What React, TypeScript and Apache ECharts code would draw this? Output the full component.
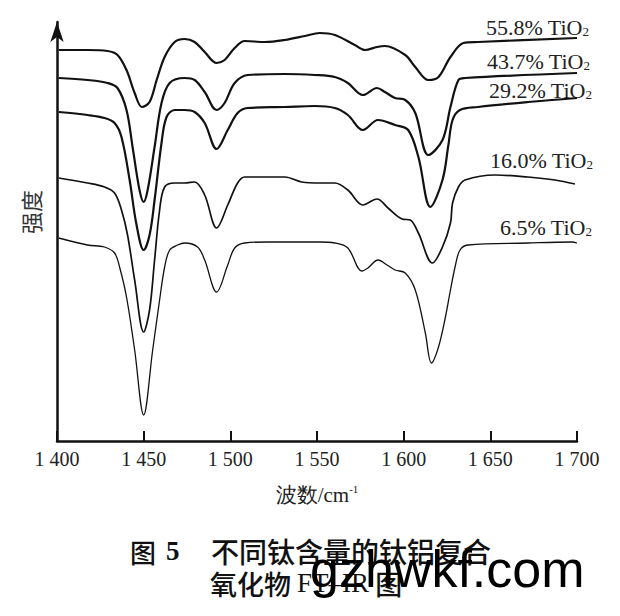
import React, { useEffect, useRef } from "react";
import * as echarts from "echarts";

// x: wavenumber (cm-1), y: intensity (a.u., stacked offsets)
const c558: [number, number][] = [
  [1401, 391], [1417.6, 391], [1429.2, 390], [1434.9, 386], [1440.1, 371], [1444.8, 348],
  [1449, 334], [1453.4, 339], [1457.5, 361], [1462.1, 384], [1467.9, 399], [1473.6, 402],
  [1479.4, 399], [1485.2, 389], [1492.1, 378], [1496.7, 381], [1502.5, 393], [1508.3, 400],
  [1519.8, 399], [1531.4, 401], [1543, 405], [1551.6, 408], [1560.3, 406], [1571.8, 396],
  [1577.7, 391], [1584.6, 394], [1589.2, 395], [1600.9, 386], [1606.7, 374], [1614.3, 361],
  [1620.1, 364], [1627, 384], [1634.5, 398], [1642.9, 399], [1700, 403],
];
const c437: [number, number][] = [
  [1401, 363], [1417.6, 361], [1429.2, 358], [1434.9, 353], [1440.1, 331], [1443.6, 294],
  [1447.6, 251], [1450, 239], [1452.3, 251], [1456.3, 294], [1460.3, 338], [1465, 358],
  [1473.6, 363], [1479.4, 361], [1485.2, 349], [1492.1, 331], [1496.7, 338], [1502.5, 358],
  [1510, 366], [1531.4, 367], [1548.7, 366], [1560.3, 364], [1567.8, 358], [1576.5, 346],
  [1584.6, 353], [1589.2, 349], [1595, 343], [1600.9, 341], [1606.7, 328], [1614.3, 286],
  [1622.4, 301], [1627, 334], [1631.6, 361], [1635.4, 363], [1700, 368],
];
const c292: [number, number][] = [
  [1401, 329], [1417.6, 326], [1427.4, 323], [1433.2, 318], [1437.2, 304], [1441.9, 261],
  [1445.9, 216], [1450, 191], [1453.4, 206], [1456.3, 241], [1460.3, 298], [1463.2, 324],
  [1467.9, 331], [1473.6, 331], [1479.4, 329], [1485.2, 318], [1492.1, 292], [1498.5, 311],
  [1504.2, 328], [1510, 333], [1531.4, 334], [1548.7, 335], [1560.3, 333], [1567.8, 326],
  [1576.5, 311], [1585.2, 321], [1595, 316], [1602.6, 311], [1608.5, 284], [1615.4, 234],
  [1622.4, 261], [1625.8, 296], [1628.2, 321], [1632.5, 331], [1642.9, 334], [1671.7, 339],
  [1700, 343],
];
const c160: [number, number][] = [
  [1401, 263], [1417.6, 258], [1427.4, 254], [1433.2, 248], [1437.2, 231], [1440.7, 206],
  [1444.8, 161], [1450, 109], [1453.4, 131], [1456.3, 181], [1459.2, 231], [1462.1, 254],
  [1467.9, 258], [1473.6, 258], [1479.4, 259], [1485.2, 246], [1492.1, 213], [1498.5, 236],
  [1504.2, 258], [1508.3, 264], [1531.4, 264], [1541.2, 259], [1551.6, 258], [1560.3, 258],
  [1567.8, 251], [1576.5, 236], [1584.6, 242], [1591, 233], [1599.1, 222], [1603.8, 221],
  [1608.5, 208], [1616.6, 178], [1622.4, 194], [1627, 218], [1628.2, 238], [1631.6, 254],
  [1635.4, 261], [1652.7, 266], [1671.7, 264], [1687.3, 261], [1698.8, 257],
];
const c65: [number, number][] = [
  [1401, 203], [1417.6, 196], [1427.4, 194], [1433.2, 188], [1436.1, 174], [1440.1, 144],
  [1444.8, 91], [1450, 26], [1455.2, 91], [1459.2, 141], [1462.1, 174], [1465, 191],
  [1469.6, 196], [1473.6, 198], [1481.1, 194], [1485.2, 181], [1492.1, 149], [1498.5, 176],
  [1502.5, 193], [1508.3, 198], [1521.6, 199], [1551.6, 199], [1560.3, 198], [1567.8, 193],
  [1575.9, 170], [1579.4, 173], [1585.2, 181], [1590.4, 176], [1595, 171], [1600.9, 168],
  [1606.7, 151], [1612.5, 108], [1616, 78], [1620.1, 94], [1624.1, 124], [1627, 151],
  [1629.9, 176], [1632.5, 191], [1637.1, 196], [1671.7, 198], [1697.1, 199], [1700, 198],
];

const seriesNames = ["55.8% TiO2", "43.7% TiO2", "29.2% TiO2", "16.0% TiO2", "6.5% TiO2"];
const seriesData = [c558, c437, c292, c160, c65];
const labelPcts = ["55.8% TiO", "43.7% TiO", "29.2% TiO", "16.0% TiO", "6.5% TiO"];
const xTicks = [1400, 1450, 1500, 1550, 1600, 1650, 1700];
const xTickLabels = ["1 400", "1 450", "1 500", "1 550", "1 600", "1 650", "1 700"];

const lineWidths = [2.2, 2.2, 2.2, 1.7, 1.3];
const labelPos = [
  [589, 27],
  [590, 61],
  [592, 90],
  [593, 160],
  [592, 227],
];

export default function App() {
  const ref = useRef<HTMLDivElement>(null);
  useEffect(() => {
    if (!ref.current) return;
    const chart = echarts.init(ref.current, undefined, { renderer: "svg" });
    const serif = "'Liberation Serif', 'Times New Roman', serif";
    const cjk = "'Noto Sans CJK SC', sans-serif";
    chart.setOption({
      animation: false,
      backgroundColor: "#ffffff",
      grid: { left: 57, top: 22, width: 520, height: 419 },
      xAxis: {
        type: "value",
        min: 1400,
        max: 1700,
        interval: 50,
        name: "{a|波数/cm}{s|-1}",
        nameLocation: "middle",
        nameGap: 42,
        nameTextStyle: {
          rich: {
            a: { fontSize: 21, fontFamily: serif, color: "#222", lineHeight: 24 },
            s: { fontSize: 11, fontFamily: serif, color: "#222", verticalAlign: "top", lineHeight: 24, padding: [0, 0, 10, 0] },
          },
        },
        axisLine: { lineStyle: { color: "#111", width: 2.5 } },
        axisTick: { inside: true, length: 10, lineStyle: { color: "#111", width: 2 } },
        axisLabel: {
          margin: 8,
          fontSize: 20,
          fontFamily: serif,
          color: "#222",
          showMinLabel: true,
          showMaxLabel: true,
          formatter: (v: number) => {
            const i = xTicks.indexOf(v);
            return i >= 0 ? xTickLabels[i] : "";
          },
        },
        splitLine: { show: false },
      },
      yAxis: {
        type: "value",
        min: 0,
        max: 419,
        axisLine: {
          show: true,
          symbol: ["none", "arrow"],
          symbolSize: [10, 20],
          lineStyle: { color: "#111", width: 2.5 },
        },
        axisTick: { show: false },
        axisLabel: { show: false },
        splitLine: { show: false },
      },
      series: seriesData.map((d, i) => ({
        name: seriesNames[i],
        type: "line",
        data: d,
        smooth: 0.35,
        showSymbol: false,
        symbol: "none",
        lineStyle: { color: "#111", width: lineWidths[i] },
      })),
      graphic: [
        ...labelPcts.map((t, i) => ({
          type: "text",
          x: labelPos[i][0],
          y: labelPos[i][1],
          style: {
            text: `{a|${t}}{s|2}`,
            align: "right",
            verticalAlign: "middle",
            rich: {
              a: { fontSize: 22, fontFamily: serif, fill: "#222", lineHeight: 22 },
              s: { fontSize: 13, fontFamily: serif, fill: "#222", lineHeight: 22, verticalAlign: "bottom" },
            },
          },
        })),
        {
          type: "text",
          x: 30,
          y: 212,
          rotation: Math.PI / 2,
          style: {
            text: "强度",
            fontSize: 22,
            fontFamily: cjk,
            fill: "#333",
            align: "center",
            verticalAlign: "middle",
          },
        },
        {
          type: "text",
          x: 130,
          y: 551,
          style: {
            text: "{c|图}{sp| }{n|5}",
            verticalAlign: "middle",
            rich: {
              c: { fontSize: 26, fontFamily: cjk, fontWeight: 500, fill: "#111" },
              sp: { fontSize: 26, fontFamily: serif, fill: "#111", width: 10 },
              n: { fontSize: 27, fontFamily: serif, fontWeight: "bold", fill: "#111" },
            },
          },
        },
        {
          type: "text",
          x: 211,
          y: 551,
          style: { text: "不同钛含量的钛铝复合", fontSize: 28, fontFamily: cjk, fontWeight: 500, fill: "#111", verticalAlign: "middle" },
        },
        {
          type: "text",
          x: 210,
          y: 583,
          style: {
            text: "{c|氧化物 }{l|FT–IR}{c| 图}",
            verticalAlign: "middle",
            rich: {
              c: { fontSize: 27, fontFamily: cjk, fontWeight: 500, fill: "#111" },
              l: { fontSize: 27, fontFamily: serif, fill: "#111" },
            },
          },
        },
        {
          type: "text",
          x: 310,
          y: 569,
          style: {
            text: "gzhwkf.com",
            fontSize: 52,
            fontFamily: "'Liberation Sans', Arial, sans-serif",
            fill: "#000",
            verticalAlign: "middle",
          },
        },
      ],
    });
    return () => chart.dispose();
  }, []);
  return (
    <div
      ref={ref}
      style={{ position: "fixed", left: 0, top: 0, width: 620, height: 616, background: "#fff" }}
    />
  );
}
